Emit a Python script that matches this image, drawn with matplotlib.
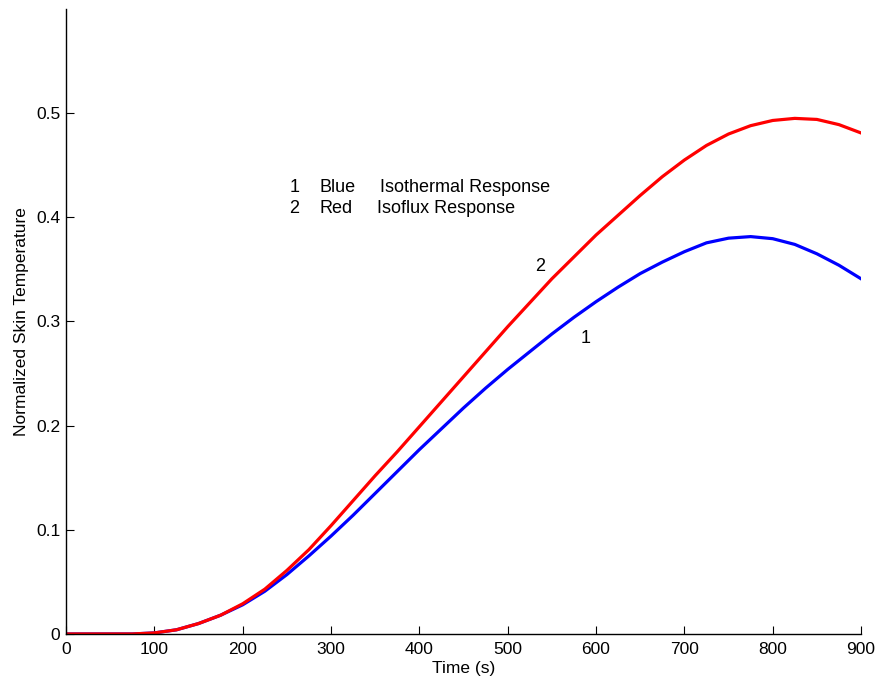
import matplotlib.pyplot as plt

plt.rcParams['font.family'] = ['Liberation Sans', 'DejaVu Sans']

# time grid (s) and normalized skin temperature for both responses
time_s = [0, 25, 50, 75, 100, 125, 150, 175, 200, 225, 250, 275, 300, 325,
          350, 375, 400, 425, 450, 475, 500, 525, 550, 575, 600, 625, 650,
          675, 700, 725, 750, 775, 800, 825, 850, 875, 900]
isothermal = [0, 0, 0, 0, 0.001, 0.004, 0.010, 0.018, 0.028, 0.041, 0.057,
              0.075, 0.094, 0.114, 0.135, 0.156, 0.177, 0.197, 0.217, 0.236,
              0.254, 0.271, 0.288, 0.304, 0.319, 0.333, 0.346, 0.357, 0.367,
              0.3755, 0.380, 0.3815, 0.3795, 0.374, 0.365, 0.354, 0.341]
isoflux = [0, 0, 0, 0, 0.001, 0.004, 0.010, 0.018, 0.029, 0.043, 0.061,
           0.081, 0.104, 0.128, 0.152, 0.175, 0.199, 0.223, 0.247, 0.271,
           0.295, 0.318, 0.341, 0.362, 0.383, 0.402, 0.421, 0.439, 0.455,
           0.469, 0.480, 0.488, 0.493, 0.495, 0.494, 0.489, 0.481]

xticks = [0, 100, 200, 300, 400, 500, 600, 700, 800, 900]
yticks = [0, 0.1, 0.2, 0.3, 0.4, 0.5]

fig = plt.figure(figsize=(8.77, 6.83), dpi=100)
ax = fig.add_axes([0.0753, 0.0718, 0.9065, 0.915])

ax.plot(time_s, isothermal, color='#0000ff', lw=2.3, solid_joinstyle='round')
ax.plot(time_s, isoflux, color='#ff0000', lw=2.3, solid_joinstyle='round')

ax.set_xlim(0, 900)
ax.set_ylim(0, 0.6)
ax.set_xticks(xticks)
ax.set_xticklabels([str(t) for t in xticks])
ax.set_yticks(yticks)
ax.set_yticklabels(['0', '0.1', '0.2', '0.3', '0.4', '0.5'])
ax.tick_params(direction='in', length=6, width=0.8, labelsize=12.5)
ax.tick_params(axis='x', pad=6)
ax.tick_params(axis='y', pad=4)

for side in ['top', 'right']:
    ax.spines[side].set_visible(False)
for side in ['left', 'bottom']:
    ax.spines[side].set_linewidth(1.0)

ax.set_xlabel('Time (s)', fontsize=12.5, labelpad=3)
ax.set_ylabel('Normalized Skin Temperature', fontsize=12.5, labelpad=5)

# curve tags and key
ax.text(537, 0.353, '2', fontsize=13, ha='center', va='center')
ax.text(588, 0.284, '1', fontsize=13, ha='center', va='center')

ax.text(253, 0.429, '1', fontsize=13, va='center')
ax.text(287, 0.429, 'Blue', fontsize=13, va='center')
ax.text(355, 0.429, 'Isothermal Response', fontsize=13, va='center')
ax.text(253, 0.408, '2', fontsize=13, va='center')
ax.text(287, 0.408, 'Red', fontsize=13, va='center')
ax.text(352, 0.408, 'Isoflux Response', fontsize=13, va='center')

fig.savefig('out.png', dpi=100)
